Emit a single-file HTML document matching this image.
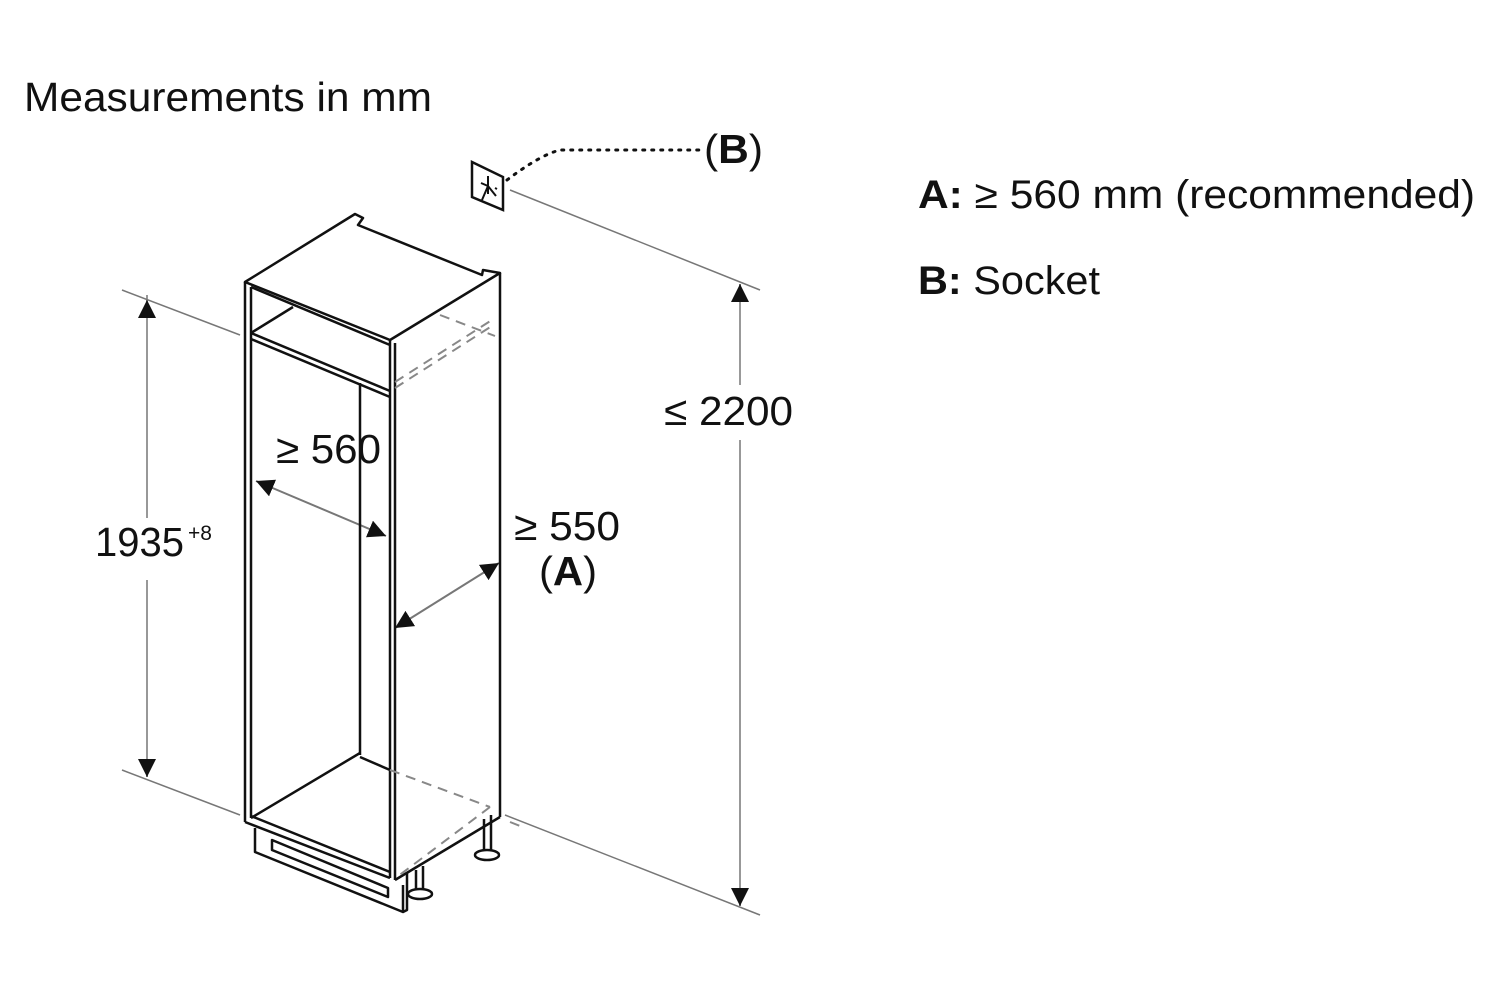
<!DOCTYPE html>
<html><head><meta charset="utf-8"><style>
html,body{margin:0;padding:0;background:#fff;}
svg{display:block;}
text{font-family:"Liberation Sans",Arial,sans-serif;fill:#111;}
</style></head><body>
<svg width="1500" height="1000" viewBox="0 0 1500 1000" xmlns="http://www.w3.org/2000/svg">
<defs>
<marker id="ar" viewBox="0 0 10 10" refX="10" refY="5" markerWidth="18" markerHeight="18" markerUnits="userSpaceOnUse" orient="auto-start-reverse"><path d="M0,0 L10,5 L0,10 z" fill="#111"/></marker>
</defs>
<text x="24" y="111" font-size="41" textLength="408" lengthAdjust="spacingAndGlyphs">Measurements in mm</text>
<text x="918" y="208" font-size="40" textLength="557" lengthAdjust="spacingAndGlyphs"><tspan font-weight="bold">A:</tspan> ≥ 560 mm (recommended)</text>
<text x="918" y="294" font-size="40" textLength="182" lengthAdjust="spacingAndGlyphs"><tspan font-weight="bold">B:</tspan> Socket</text>

<g stroke="#777" stroke-width="1.5" fill="none">
<line x1="122" y1="290" x2="240" y2="335"/>
<line x1="122" y1="770" x2="240" y2="815"/>
<line x1="510" y1="190" x2="760" y2="290"/>
<line x1="505" y1="815" x2="760" y2="915"/>
<line x1="147" y1="295" x2="147" y2="518"/>
<line x1="147" y1="580" x2="147" y2="775"/>
<line x1="740" y1="285" x2="740" y2="385"/>
<line x1="740" y1="440" x2="740" y2="905"/>
</g>
<g stroke="#777" stroke-width="2" fill="none">
<line x1="147" y1="310" x2="147" y2="300" marker-end="url(#ar)"/>
<line x1="147" y1="760" x2="147" y2="777" marker-end="url(#ar)"/>
<line x1="740" y1="300" x2="740" y2="284" marker-end="url(#ar)"/>
<line x1="740" y1="890" x2="740" y2="906" marker-end="url(#ar)"/>
<line x1="256" y1="481" x2="386" y2="536" marker-start="url(#ar)" marker-end="url(#ar)"/>
<line x1="395" y1="628" x2="499" y2="563" marker-start="url(#ar)" marker-end="url(#ar)"/>
</g>
<text x="95" y="556" font-size="41" textLength="89" lengthAdjust="spacingAndGlyphs">1935</text>
<text x="188" y="540" font-size="21">+8</text>
<text x="276" y="463" font-size="41" textLength="105" lengthAdjust="spacingAndGlyphs">≥ 560</text>
<text x="514" y="540" font-size="41" textLength="106" lengthAdjust="spacingAndGlyphs">≥ 550</text>
<text x="539" y="585" font-size="41" textLength="58" lengthAdjust="spacingAndGlyphs">(<tspan font-weight="bold">A</tspan>)</text>
<text x="664" y="425" font-size="41" textLength="129" lengthAdjust="spacingAndGlyphs">≤ 2200</text>
<text x="704" y="163" font-size="41" textLength="59" lengthAdjust="spacingAndGlyphs">(<tspan font-weight="bold">B</tspan>)</text>

<path d="M472,162 L503,177 L503,210 L472,197 Z" fill="#fff" stroke="#111" stroke-width="2.5"/>
<path d="M481,183 L488,186 M488,176 L488,194 M482,200 L488,186 L496,196 M495,188 L497,189" stroke="#111" stroke-width="2" fill="none"/>
<path d="M507,180 Q540,155 560,150 L700,150" stroke="#111" stroke-width="3" stroke-dasharray="2,7" stroke-linecap="round" fill="none"/>

<g stroke="#111" stroke-width="2.5" fill="none" stroke-linejoin="round">
<path d="M245,282 L355,214 L363,218 L358,225 L482,275 L483,270 L500,273 L390,340 Z" fill="#fff"/>
<line x1="245" y1="282" x2="245" y2="822"/>
<line x1="251" y1="287" x2="251" y2="818"/>
<line x1="390" y1="340" x2="390" y2="878"/>
<line x1="395" y1="343" x2="395" y2="880"/>
<line x1="500" y1="273" x2="500" y2="817"/>
<line x1="500" y1="817" x2="395" y2="880"/>
<line x1="251" y1="287" x2="390" y2="345"/>
<line x1="251" y1="333" x2="390" y2="391"/>
<line x1="251" y1="339" x2="390" y2="397"/>
<line x1="251" y1="333" x2="293" y2="307"/>
<line x1="360" y1="383" x2="360" y2="755"/>
<line x1="251" y1="818" x2="360" y2="753"/>
<line x1="360" y1="757" x2="390" y2="770"/>
<line x1="245" y1="822" x2="390" y2="878"/>
<line x1="251" y1="816" x2="390" y2="872"/>
<path d="M255,828 L255,852 L403,912 L407,910 L407,873"/>
<line x1="403" y1="885" x2="403" y2="912"/>
<path d="M272,840 L272,850 L388,897 L388,888 Z"/>
<path d="M484,819 L484,853 M491,815 L491,853"/>
<ellipse cx="487" cy="855" rx="12" ry="5" fill="#fff"/>
<path d="M416,870 L416,892 M423,866 L423,892"/>
<ellipse cx="420" cy="894" rx="12" ry="5" fill="#fff"/>
</g>
<g stroke="#888" stroke-width="2" fill="none" stroke-dasharray="10,7">
<line x1="395" y1="382" x2="495" y2="318"/>
<line x1="395" y1="388" x2="495" y2="324"/>
<line x1="440" y1="315" x2="495" y2="336"/>
<line x1="390" y1="770" x2="490" y2="807"/>
<line x1="490" y1="807" x2="397" y2="877"/>
<line x1="510" y1="822" x2="520" y2="826"/>
</g>
</svg>
</body></html>
